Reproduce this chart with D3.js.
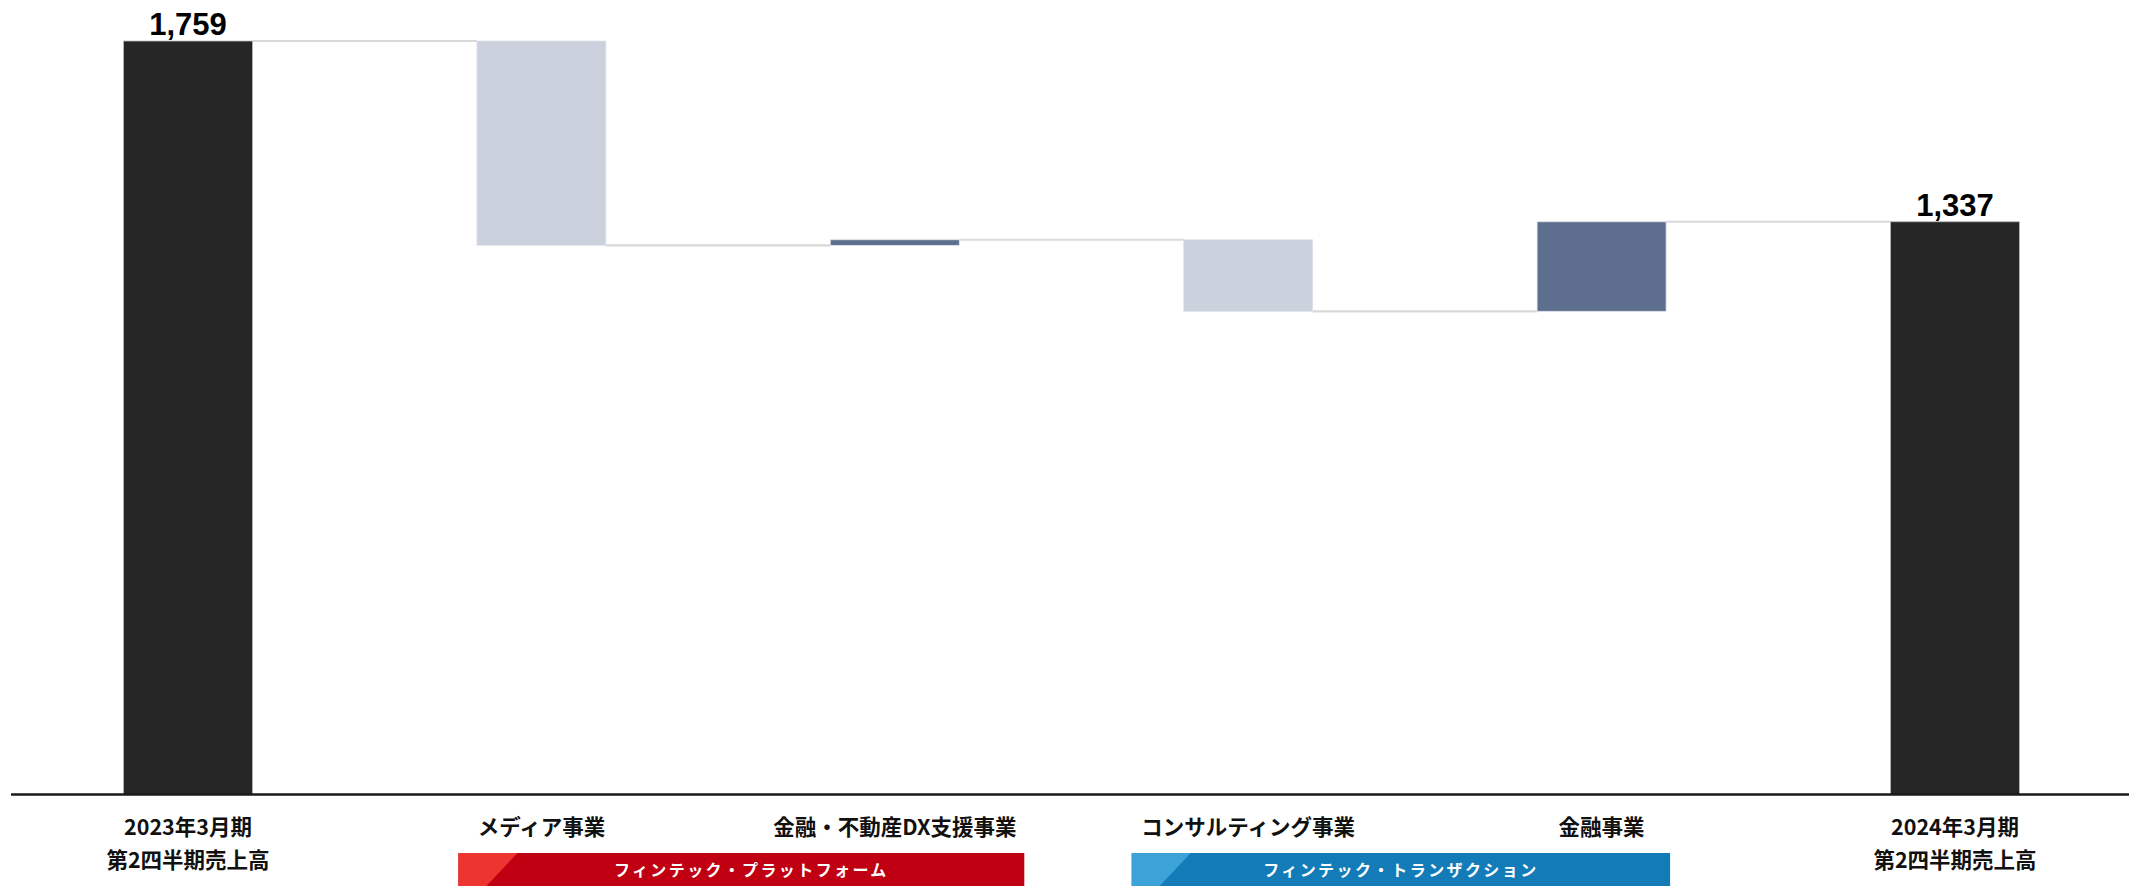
<!DOCTYPE html>
<html lang="ja">
<head>
<meta charset="utf-8">
<script src="https://cdn.jsdelivr.net/npm/d3@7"></script>
<style>
  html, body { margin: 0; padding: 0; background: #ffffff; }
  svg { display: block; }
  .jp { font-family: "Noto Sans CJK JP", "Noto Sans", sans-serif; font-weight: 700; }
  .num { font-family: "Liberation Sans", Arial, sans-serif; font-weight: 700; }
</style>
</head>
<body>
<svg id="chart" width="2129" height="886"></svg>
<script>
// Waterfall: 2Q revenue bridge by business segment
const categories = ["start", "media", "dx", "consulting", "finance", "end"];
const categoryLabels = [
  ["2023年3月期", "第2四半期売上高"],
  ["メディア事業"],
  ["金融・不動産DX支援事業"],
  ["コンサルティング事業"],
  ["金融事業"],
  ["2024年3月期", "第2四半期売上高"]
];
const kinds = ["total", "delta", "delta", "delta", "delta", "total"];
const values = [1759, -477, 13, -167, 209, 1337];
const valueLabels = ["1,759", null, null, null, null, "1,337"];

// Segment group banners under the axis
const groups = [
  { name: "フィンテック・プラットフォーム", from: "media", to: "dx", dark: "#c00012", light: "#ee3431", textShift: 10 },
  { name: "フィンテック・トランザクション", from: "consulting", to: "finance", dark: "#137cb8", light: "#3ba3d7", textShift: 0 }
];

const colors = { total: "#262626", down: "#cbd1dd", up: "#5e6e8e", connector: "#d9d9d9" };

// Running totals -> bar extents
let running = 0;
const bars = categories.map((c, i) => {
  let lo, hi, type;
  if (kinds[i] === "total") {
    running = values[i];
    lo = 0; hi = values[i]; type = "total";
  } else {
    const prev = running;
    running += values[i];
    lo = Math.min(prev, running); hi = Math.max(prev, running);
    type = values[i] < 0 ? "down" : "up";
  }
  return { key: c, lo, hi, end: running, type, label: valueLabels[i] };
});

const svg = d3.select("#chart");
const axisY = 794.5;
const barW = 129;

const x = d3.scalePoint().domain(categories).range([188, 1955]);
const y = d3.scaleLinear().domain([0, d3.max(values)]).range([axisY, 41]);

// Connectors between consecutive bars
const links = bars.slice(0, -1).map((b, i) => ({ from: b.key, to: bars[i + 1].key, v: b.end }));
svg.append("g").selectAll("line").data(links).join("line")
  .attr("x1", d => x(d.from) + barW / 2)
  .attr("x2", d => x(d.to) - barW / 2)
  .attr("y1", d => y(d.v))
  .attr("y2", d => y(d.v))
  .attr("stroke", colors.connector)
  .attr("stroke-width", 2.2);

// Bars
svg.append("g").selectAll("rect").data(bars).join("rect")
  .attr("x", d => x(d.key) - barW / 2)
  .attr("width", barW)
  .attr("y", d => y(d.hi))
  .attr("height", d => y(d.lo) - y(d.hi))
  .attr("fill", d => colors[d.type])
  .attr("stroke", d => d.type === "total" ? "#b8b8b8" : "#dfe3ea")
  .attr("stroke-width", 0.8);

// Value labels on totals
svg.append("g").selectAll("text").data(bars.filter(d => d.label)).join("text")
  .attr("class", "num")
  .attr("x", d => x(d.key))
  .attr("y", d => y(d.hi) - 6)
  .attr("text-anchor", "middle")
  .attr("font-size", 31)
  .attr("fill", "#000")
  .text(d => d.label);

// Baseline axis
svg.append("line")
  .attr("x1", 11).attr("x2", 2129)
  .attr("y1", axisY).attr("y2", axisY)
  .attr("stroke", "#1a1a1a")
  .attr("stroke-width", 2.6);

// Category labels
const lab = svg.append("g").selectAll("text").data(categories).join("text")
  .attr("class", "jp")
  .attr("text-anchor", "middle")
  .attr("font-size", 21.5)
  .attr("fill", "#111");
lab.each(function (c, i) {
  d3.select(this).selectAll("tspan").data(categoryLabels[i]).join("tspan")
    .attr("x", x(c))
    .attr("y", (d, j) => 835 + j * 33)
    .text(d => d);
});

// Group banners
const bannerTop = 853;
const bannerBottom = 886;
const gb = svg.append("g").selectAll("g").data(groups).join("g");
gb.each(function (g) {
  const sel = d3.select(this);
  const left = g.from === "media" ? x(g.from) - barW / 2 - 18.5 : x(g.from) - barW / 2 - 52;
  const right = g.from === "media" ? x(g.to) + barW / 2 + 65 : x(g.to) + barW / 2 + 4;
  sel.append("rect")
    .attr("x", left).attr("y", bannerTop)
    .attr("width", right - left).attr("height", bannerBottom - bannerTop)
    .attr("fill", g.dark);
  sel.append("path")
    .attr("d", `M${left},${bannerTop}L${left + 59},${bannerTop}L${left + 28},${bannerBottom}L${left},${bannerBottom}Z`)
    .attr("fill", g.light);
  sel.append("text")
    .attr("class", "jp")
    .attr("x", (left + right) / 2 + g.textShift)
    .attr("y", 876)
    .attr("text-anchor", "middle")
    .attr("font-size", 16)
    .attr("letter-spacing", 2.4)
    .attr("fill", "#ffffff")
    .text(g.name);
});
</script>
</body>
</html>
